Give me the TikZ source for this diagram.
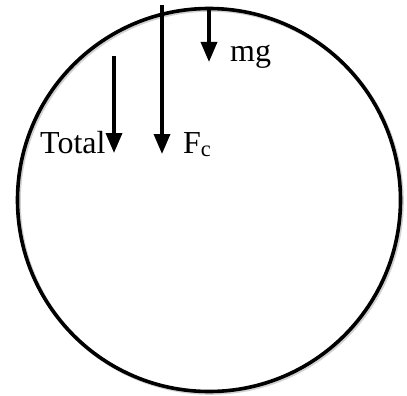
\documentclass[tikz,border=0pt]{standalone}
\usepackage{fontspec}
\setmainfont{Liberation Serif}
\usetikzlibrary{arrows.meta}
\begin{document}
\begin{tikzpicture}[x=1pt,y=-1pt,
  ring/.style={circle,draw=black,line width=3.6pt,minimum size=383pt,inner sep=0pt,outer sep=0pt},
  force/.style={line width=3.4pt,-{Triangle[width=16pt,length=20pt]}},
  lbl/.style={font=\fontsize{32}{36}\selectfont,inner sep=0pt,anchor=base west}]
\useasboundingbox (0,0) rectangle (407,396);
% shadow
\draw[black!18,line width=3.6pt] (210.5,201.5) circle (191.5pt);
\node[ring] (circ) at (209,200) {};
% coordinates
\coordinate (mgtop) at (209,9);
\coordinate (mgtip) at (209,62);
\coordinate (fctop) at (162,5);
\coordinate (fctip) at (162,154);
\coordinate (tottop) at (114,56);
\coordinate (tottip) at (114,153);
\draw[force] (mgtop) -- (mgtip);
\draw[force] (fctop) -- (fctip);
\draw[force] (tottop) -- (tottip);
% labels
\node[lbl] (mg) at (230,62) {mg};
\node[lbl] (total) at (40,153) {Total};
\node[lbl] (fc) at (183,153) {F\textsubscript{c}};
\end{tikzpicture}
\end{document}
